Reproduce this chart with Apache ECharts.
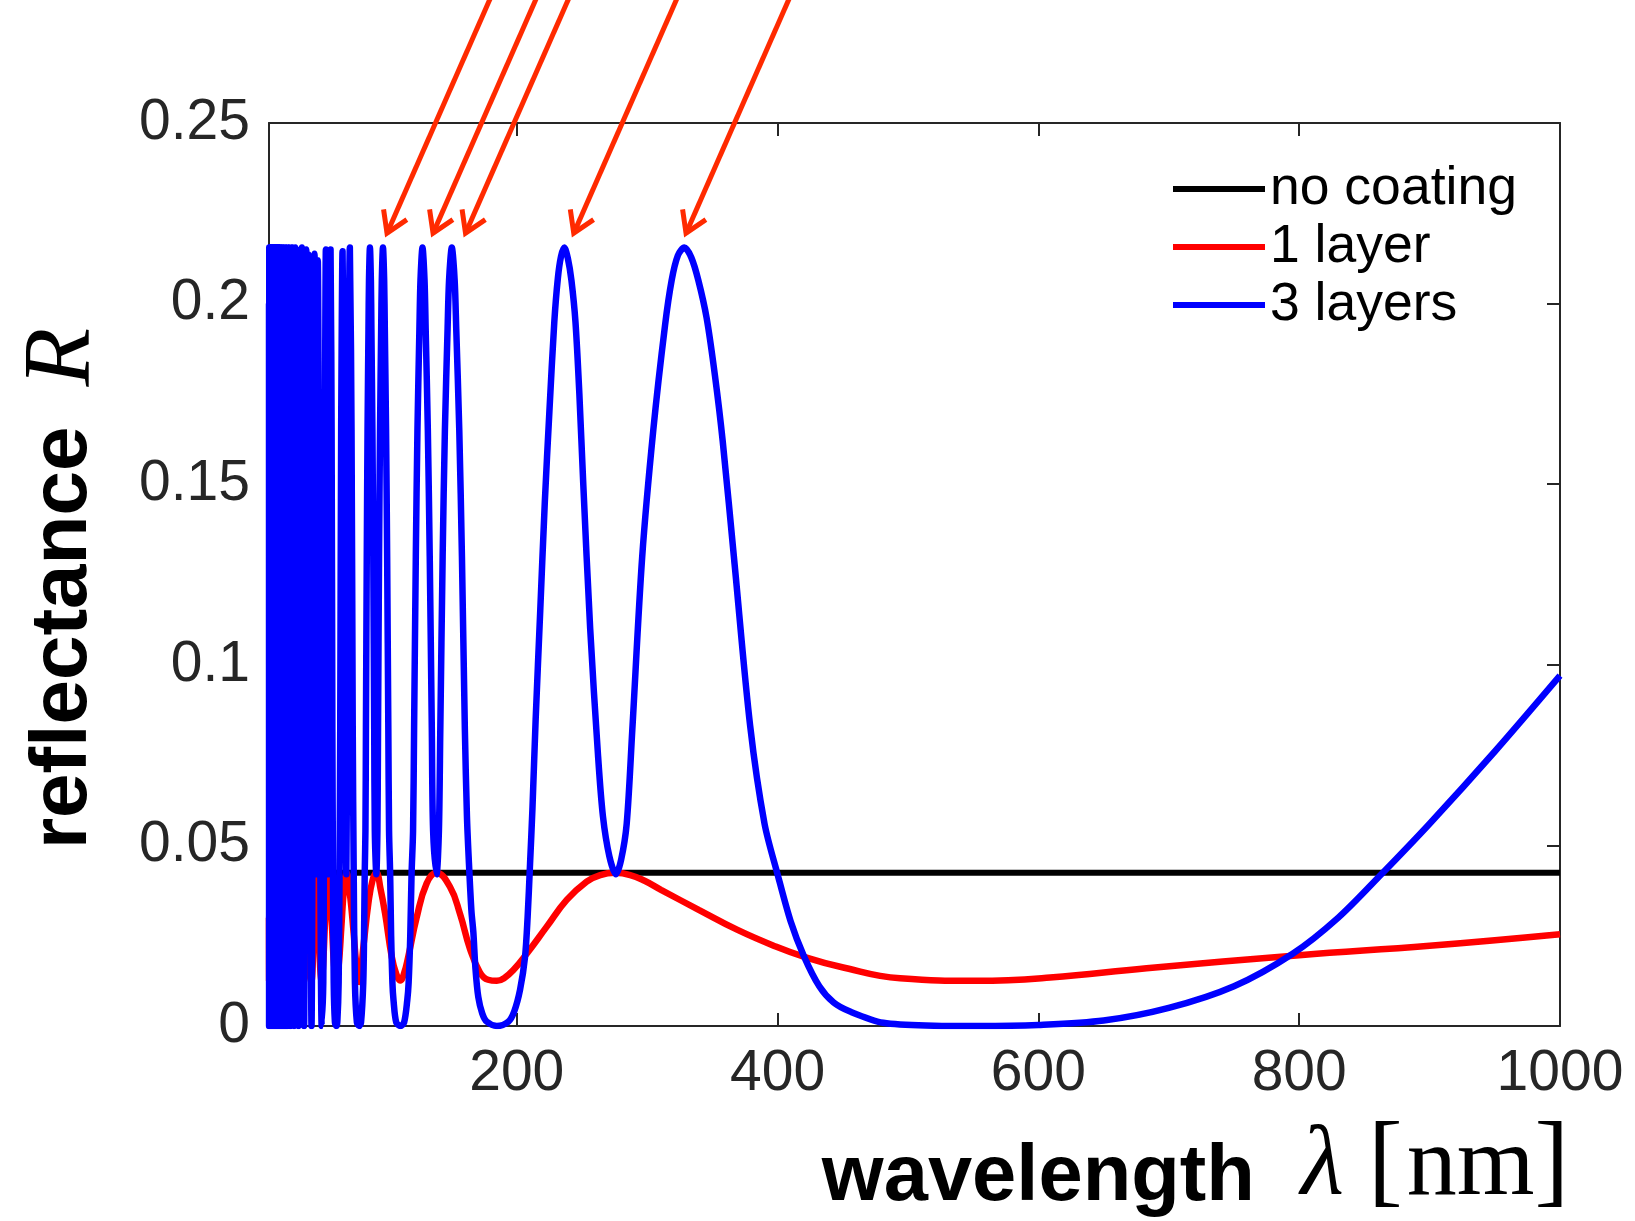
<!DOCTYPE html>
<html>
<head>
<meta charset="utf-8">
<script src="https://cdn.jsdelivr.net/npm/echarts@6/dist/echarts.min.js"></script>
<style>
  html, body { margin: 0; padding: 0; background: #fff; }
  #chart { width: 1635px; height: 1221px; }
</style>
</head>
<body>
<div id="chart"></div>
<script>
// Reflectance spectra [wavelength nm, R]
const noCoating = [[10, 0.0424], [1000, 0.0424]];

const oneLayer = [
  [10, 0.030], [10.07, 0.0125], [10.26, 0.0424], [10.45, 0.0125], [10.65, 0.0424], [10.9, 0.0125], [11.08, 0.0424],
  [11.3, 0.0125], [11.54, 0.0424], [11.8, 0.0125], [12.04, 0.0424], [12.3, 0.0125], [12.59, 0.0424], [12.9, 0.0125],
  [13.19, 0.0424], [13.5, 0.0125], [13.85, 0.0424], [14.2, 0.0125], [14.58, 0.0424], [15.0, 0.0125], [15.39, 0.0424],
  [15.8, 0.0125], [16.29, 0.0424], [16.8, 0.0125], [17.31, 0.0424], [17.9, 0.0125], [18.47, 0.0424], [19.1, 0.0125],
  [19.79, 0.0424], [20.5, 0.0125], [21.3, 0.0424], [22.2, 0.0125], [23.1, 0.0424], [24.1, 0.0125], [25.2, 0.0424],
  [26.4, 0.0125], [27.7, 0.0424], [29.2, 0.0125], [30.8, 0.0424], [32.6, 0.0125], [34.6, 0.0424], [36.9, 0.0125],
  [39.6, 0.0424], [42.6, 0.0125], [46.2, 0.0424], [50.4, 0.0125],
  [51.5, 0.0169], [52.8, 0.0275], [54.1, 0.038], [55.4, 0.0424], [56.8, 0.038], [58.3, 0.0275], [59.9, 0.0169],
  [61.6, 0.0125], [63.5, 0.0169], [65.5, 0.0275], [67.5, 0.038], [69.5, 0.0424], [72.2, 0.036], [74.7, 0.0266],
  [77, 0.017], [79.2, 0.0122], [82.4, 0.022], [86.2, 0.034], [89.5, 0.0405], [92.4, 0.0424], [95.5, 0.038],
  [99, 0.0312], [104.1, 0.0192], [107.5, 0.0145], [110.7, 0.0126], [113.5, 0.0145], [116.8, 0.0192], [123.2, 0.030],
  [130.9, 0.0395], [138.4, 0.0424], [148.8, 0.0385], [156.5, 0.031], [164, 0.0215], [171.8, 0.0148], [178, 0.0128],
  [184.7, 0.0125], [190.5, 0.0133], [197.4, 0.0155], [207.6, 0.020], [223, 0.0275], [238.3, 0.0349], [253.6, 0.040],
  [264, 0.0418], [275.5, 0.0424], [287, 0.0418], [298, 0.0402], [310.6, 0.0377], [339.9, 0.0321], [369.3, 0.0266],
  [398.6, 0.022], [420, 0.0192], [448, 0.0164], [494, 0.0132], [553, 0.0125], [609, 0.0134], [683, 0.016],
  [800, 0.0196], [900, 0.0222], [1000, 0.0254]
];

const threeLayers = [
  [10, 0.200],
  [10.07, 0], [10.20, 0.2155], [10.26, 0.042], [10.32, 0.2155],
  [10.45, 0], [10.59, 0.2155], [10.65, 0.042], [10.72, 0.2155],
  [10.9, 0], [11.01, 0.2155], [11.08, 0.042], [11.15, 0.2155],
  [11.3, 0], [11.46, 0.2155], [11.54, 0.042], [11.62, 0.2155],
  [11.8, 0], [11.96, 0.2155], [12.04, 0.042], [12.13, 0.2155],
  [12.3, 0], [12.5, 0.2155], [12.59, 0.042], [12.68, 0.2155],
  [12.9, 0], [13.09, 0.2155], [13.19, 0.042], [13.29, 0.2155],
  [13.5, 0], [13.73, 0.2155], [13.85, 0.042], [13.96, 0.2155],
  [14.2, 0], [14.45, 0.2155], [14.58, 0.042], [14.7, 0.2155],
  [15.0, 0], [15.25, 0.2155], [15.39, 0.042], [15.52, 0.2155],
  [15.8, 0], [16.13, 0.2155], [16.29, 0.042], [16.44, 0.2155],
  [16.8, 0], [17.13, 0.2155], [17.31, 0.042], [17.48, 0.2155],
  [17.9, 0], [18.26, 0.2155], [18.47, 0.042], [18.66, 0.2155],
  [19.1, 0], [19.55, 0.2155], [19.79, 0.042], [20.0, 0.2155],
  [20.5, 0], [21.0, 0.2155], [21.3, 0.042], [21.6, 0.2155],
  [22.2, 0], [22.8, 0.2155], [23.1, 0.042], [23.4, 0.2155],
  [24.1, 0], [24.8, 0.2155], [25.2, 0.042], [25.5, 0.2155],
  [26.4, 0], [27.2, 0.2155], [27.7, 0.042], [28.1, 0.2155],
  [29.2, 0], [30.2, 0.2155], [30.8, 0.042], [31.3, 0.2150],
  [32.6, 0], [33.9, 0.2142], [34.6, 0.042], [35.3, 0.2155],
  [36.9, 0], [38.6, 0.2150], [39.6, 0.042], [40.5, 0.2135],
  [42.6, 0], [44.9, 0.2138], [46.2, 0.042], [47.4, 0.2120],
  [50.4, 0], [51.63, 0.012], [52.06, 0.042], [52.43, 0.082], [52.91, 0.165], [53.6, 0.2150], [54.31, 0.165],
  [54.82, 0.082], [55.4, 0.042], [55.87, 0.082], [56.41, 0.165], [57.2, 0.2150], [58.01, 0.165], [58.59, 0.082],
  [59.06, 0.042], [59.62, 0.012], [60.56, 0.001],
  [61.6, 0], [62.38, 0.001], [63.41, 0.012], [64.06, 0.042], [64.62, 0.082], [65.34, 0.165], [66.4, 0.2145],
  [67.49, 0.165], [68.29, 0.082], [69.3, 0.042], [69.9, 0.082], [70.76, 0.165], [72.0, 0.2155], [73.29, 0.165],
  [74.22, 0.082], [74.97, 0.042], [75.88, 0.012], [77.41, 0.001],
  [79.1, 0], [80.57, 0.001], [82.29, 0.012], [82.9, 0.025], [83.39, 0.042], [83.95, 0.054], [84.33, 0.082],
  [84.97, 0.13], [85.57, 0.165], [86.29, 0.193], [86.68, 0.2065], [87.4, 0.2155], [88.13, 0.2065], [88.53, 0.193],
  [89.3, 0.165], [89.97, 0.13], [90.69, 0.082], [91.14, 0.054], [92.3, 0.042], [93.14, 0.054], [93.61, 0.082],
  [94.39, 0.13], [95.14, 0.165], [96.02, 0.193], [96.51, 0.2065], [97.4, 0.2155], [98.31, 0.2065], [98.81, 0.193],
  [99.77, 0.165], [100.6, 0.13], [101.51, 0.082], [102.07, 0.054], [102.91, 0.042], [103.66, 0.025], [104.63, 0.012],
  [105.52, 0.007], [107.56, 0.001],
  [110.8, 0], [113.62, 0.001], [116.0, 0.007], [117.08, 0.012], [118.33, 0.025], [119.32, 0.042], [120.47, 0.054],
  [121.26, 0.082], [122.58, 0.13], [123.84, 0.165], [125.34, 0.193], [126.17, 0.2065], [127.7, 0.2155],
  [129.27, 0.2065], [130.14, 0.193], [131.8, 0.165], [133.26, 0.13], [134.86, 0.082], [135.85, 0.054],
  [138.5, 0.042], [140.29, 0.054], [141.36, 0.082], [143.16, 0.13], [144.89, 0.165], [146.95, 0.193],
  [148.08, 0.2065], [150.2, 0.2155], [152.37, 0.2065], [153.59, 0.193], [155.91, 0.165], [157.95, 0.13],
  [160.2, 0.082], [161.8, 0.058], [163.2, 0.046], [165.2, 0.032], [166.7, 0.026], [168.3, 0.016], [170.5, 0.008],
  [173.5, 0.0035], [177, 0.0012],
  [184.7, 0], [193.5, 0.0012], [198, 0.004], [202.5, 0.010], [206.3, 0.019], [208.3, 0.030], [210.2, 0.045],
  [212, 0.060], [214.5, 0.085], [218, 0.115], [221.5, 0.145], [225, 0.170], [228.8, 0.195], [231.5, 0.207],
  [233.9, 0.2130], [236.5, 0.2155], [239.2, 0.2125], [241.9, 0.2065], [245, 0.195], [248, 0.175], [251, 0.150],
  [256.3, 0.110], [262.3, 0.075], [266.1, 0.058], [271, 0.047], [276, 0.042], [280, 0.046], [284.3, 0.056],
  [288.6, 0.082], [296.2, 0.13], [304.7, 0.165], [313.7, 0.194], [318.8, 0.2065], [323.5, 0.2133], [328.5, 0.2155],
  [333.8, 0.2128], [339.2, 0.2065], [345.6, 0.196], [352, 0.180], [357.9, 0.162], [367, 0.128], [379, 0.083],
  [390, 0.056], [400, 0.042], [410, 0.029], [420, 0.0195], [432, 0.011], [443, 0.0065], [455.6, 0.004],
  [481, 0.0009], [520, 0.0001], [554, 0], [600, 0.0003], [650, 0.0015], [700, 0.005], [750, 0.011], [795, 0.020],
  [830, 0.030], [863, 0.042], [900, 0.056], [950, 0.076], [1000, 0.097]
];

// Tick positions
const xTickValues = [200, 400, 600, 800, 1000];
const yTickInterval = 0.05;

// Annotation arrows: head and tail points in data units
const arrowHeads = [[100.5, 0.2195], [135.8, 0.2195], [160.7, 0.2195], [243.7, 0.2195], [329.8, 0.2195]];
const arrowTails = [[189.3, 0.2924], [224.6, 0.2924], [249.5, 0.2924], [332.5, 0.2924], [418.6, 0.2924]];

const arrowData = arrowHeads.map((h, i) => [h[0], h[1], arrowTails[i][0], arrowTails[i][1]]);

const AXIS = '#262626';
const ARROW = '#ff2a00';
const SANS = 'Liberation Sans, Arial, sans-serif';
const SERIF = 'Liberation Serif, serif';

const chart = echarts.init(document.getElementById('chart'), null, { renderer: 'canvas' });

function boxAxis(extra) {
  return Object.assign({
    type: 'value',
    axisLine: { show: true, onZero: false, lineStyle: { color: AXIS, width: 2 } },
    axisTick: { show: true, inside: true, length: 13, lineStyle: { color: AXIS, width: 2 } },
    splitLine: { show: false },
    axisLabel: { show: false }
  }, extra);
}

const tickLabel = { color: AXIS, fontSize: 57, fontFamily: SANS, formatter: v => String(v) };

chart.setOption({
  animation: false,
  backgroundColor: '#fff',
  grid: { left: 269, right: 75, top: 123, bottom: 195, outerBoundsMode: 'none', containLabel: false },
  legend: {
    orient: 'vertical',
    left: 1168,
    top: 157,
    icon: 'rect',
    itemWidth: 92,
    itemHeight: 6,
    itemGap: 4,
    textStyle: { fontFamily: SANS, fontSize: 53.5, lineHeight: 52, color: '#000' },
    data: ['no coating', '1 layer', '3 layers']
  },
  xAxis: [
    boxAxis({
      min: 10, max: 1000, position: 'bottom',
      axisTick: { show: true, inside: true, length: 13, customValues: xTickValues, lineStyle: { color: AXIS, width: 2 } },
      axisLabel: Object.assign({ show: true, margin: 20, customValues: xTickValues }, tickLabel),
      name: '{b|wavelength}{g1| }{l|λ}{g2| }{k|[}{s|nm}{k|]}',
      nameLocation: 'middle',
      nameGap: 122,
      nameMoveOverlap: false,
      nameTextStyle: {
        align: 'center',
        verticalAlign: 'top',
        padding: [0, 0, 0, 562],
        rich: {
          b: { fontFamily: SANS, fontWeight: 'bold', fontSize: 79.5, lineHeight: 53, color: '#000', verticalAlign: 'bottom' },
          g1: { width: 42, fontSize: 10, lineHeight: 7, verticalAlign: 'bottom' },
          g2: { width: 20, fontSize: 10, lineHeight: 7, verticalAlign: 'bottom' },
          l: { fontFamily: SERIF, fontStyle: 'italic', fontSize: 100, lineHeight: 68, color: '#000', verticalAlign: 'bottom', padding: [0, 4, 0, 4] },
          s: { fontFamily: SERIF, fontSize: 100, lineHeight: 68, color: '#000', verticalAlign: 'bottom', padding: [0, 0, 0, 4] },
          k: { fontFamily: SERIF, fontSize: 104, lineHeight: 70, color: '#000', verticalAlign: 'bottom' }
        }
      }
    }),
    boxAxis({
      min: 10, max: 1000, position: 'top',
      axisTick: { show: true, inside: true, length: 13, customValues: xTickValues, lineStyle: { color: AXIS, width: 2 } }
    })
  ],
  yAxis: [
    boxAxis({
      min: 0, max: 0.25, interval: yTickInterval, position: 'left',
      axisLabel: Object.assign({ show: true, margin: 19 }, tickLabel),
      name: '{b|reflectance}{g| }{r|R}',
      nameLocation: 'middle',
      nameRotate: 90,
      nameGap: 165,
      nameMoveOverlap: false,
      nameTextStyle: {
        padding: [0, 28, 0, 0],
        rich: {
          b: { fontFamily: SANS, fontWeight: 'bold', fontSize: 80, lineHeight: 100, color: '#000', verticalAlign: 'bottom' },
          g: { width: 40, fontSize: 10, lineHeight: 100, verticalAlign: 'bottom' },
          r: { fontFamily: SERIF, fontStyle: 'italic', fontSize: 96, lineHeight: 100, color: '#000', verticalAlign: 'top', padding: [12, 0, 0, 0] }
        }
      }
    }),
    boxAxis({ min: 0, max: 0.25, interval: yTickInterval, position: 'right' })
  ],
  series: [
    {
      name: 'no coating', type: 'line', data: noCoating,
      symbol: 'none', color: '#000', lineStyle: { width: 6, color: '#000' }, z: 2
    },
    {
      name: '1 layer', type: 'line', data: oneLayer, smooth: 0.45,
      symbol: 'none', color: '#ff0000', lineStyle: { width: 6.5, color: '#ff0000' }, z: 3
    },
    {
      name: '3 layers', type: 'line', data: threeLayers, smooth: 0.3,
      symbol: 'none', color: '#0000ff', lineStyle: { width: 6.5, color: '#0000ff', join: 'round' }, z: 4
    },
    {
      type: 'custom',
      clip: false,
      silent: true,
      z: 5,
      data: arrowData,
      renderItem: function (params, api) {
        const tip = api.coord([api.value(0), api.value(1)]);
        const tail = api.coord([api.value(2), api.value(3)]);
        const ang = Math.atan2(tail[1] - tip[1], tail[0] - tip[0]);
        const len = 24, spread = 32 * Math.PI / 180;
        const a1 = [tip[0] + len * Math.cos(ang + spread), tip[1] + len * Math.sin(ang + spread)];
        const a2 = [tip[0] + len * Math.cos(ang - spread), tip[1] + len * Math.sin(ang - spread)];
        return {
          type: 'group',
          children: [
            { type: 'line', shape: { x1: tail[0], y1: tail[1], x2: tip[0], y2: tip[1] },
              style: { stroke: ARROW, lineWidth: 5, fill: null } },
            { type: 'polyline', shape: { points: [a1, tip, a2] },
              style: { stroke: ARROW, lineWidth: 5, fill: null, lineJoin: 'miter' } }
          ]
        };
      }
    }
  ]
});
</script>
</body>
</html>
